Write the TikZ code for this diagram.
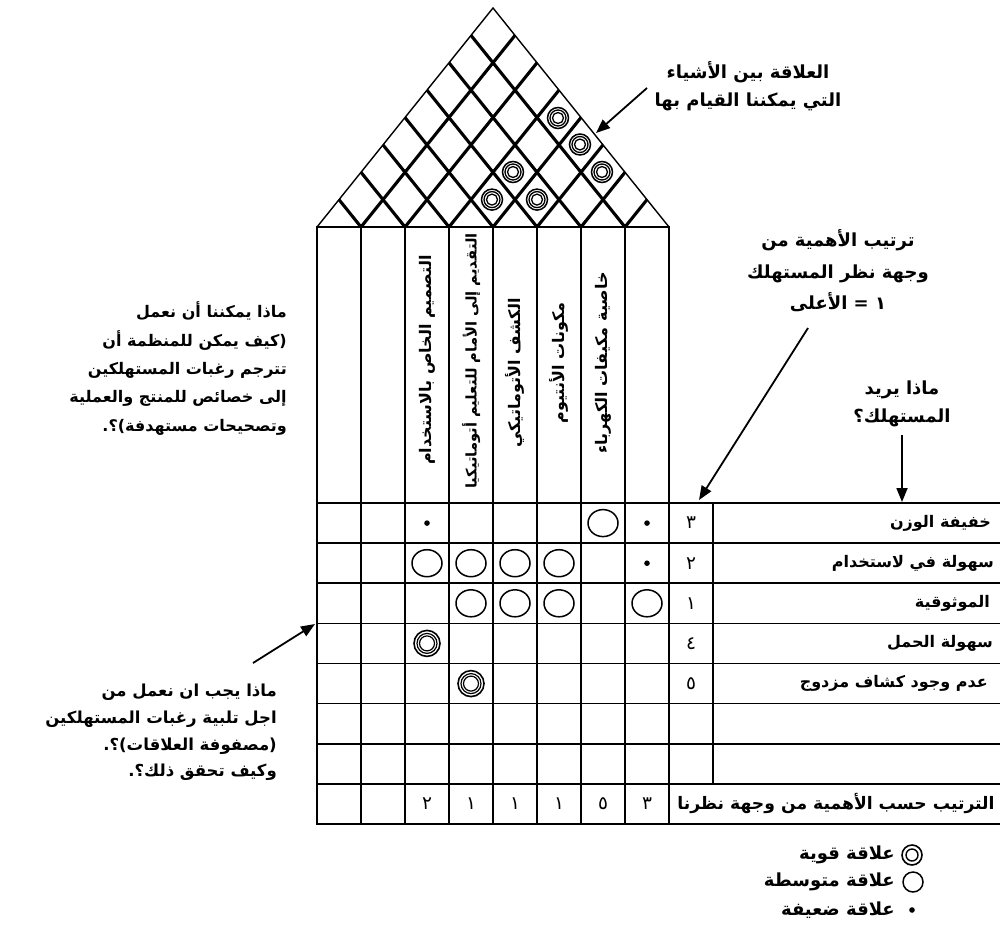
\documentclass[tikz,border=0pt]{standalone}
\usepackage{fontspec}
\usetikzlibrary{arrows.meta}
\newfontfamily\arabicfont[Script=Arabic]{DejaVu Sans}
\TeXXeTstate=1
\newcommand\artxt[1]{\beginR #1\endR}
\newcommand\arsize[2]{\arabicfont\bfseries\fontsize{#1}{#2}\selectfont}

\tikzset{
  txt/.style={font=\arsize{16}{28.3}, inner sep=0pt},
  bigtxt/.style={font=\arsize{18}{28}, inner sep=0pt},
  num/.style={font=\arabicfont\fontsize{18.5}{20}\selectfont, inner sep=0pt},
  gridline/.style={line width=1.7pt, line cap=rect},
  lattice/.style={line width=3.1pt},
  roofedge/.style={line width=1.4pt, line join=miter},
  arr/.style={line width=1.8pt, -{Triangle[length=14pt,width=11pt]}},
  pics/strongmark/.style={code={
    \draw[line width=1.6pt] (0,0) circle (13pt);
    \draw[line width=1.2pt] (0,0) circle (10pt);
    \draw[line width=1.2pt] (0,0) circle (7.5pt);}},
  pics/roofmark/.style={code={
    \draw[line width=1.5pt] (0,0) circle (10.5pt);
    \draw[line width=1.3pt] (0,0) circle (8pt);
    \draw[line width=1.3pt] (0,0) circle (5.5pt);}},
  pics/medmark/.style={code={
    \draw[line width=1.5pt] (0,0) ellipse (15pt and 13.5pt);}},
  pics/weakmark/.style={code={\fill (0,0) circle (2.8pt);}},
  pics/keystrong/.style={code={
    \draw[line width=1.6pt] (0,0) circle (10pt);
    \draw[line width=1.4pt] (0,0) circle (6pt);}},
  pics/keymed/.style={code={
    \draw[line width=1.5pt] (0,0) circle (10pt);}},
}

\begin{document}
\begin{tikzpicture}[x=1pt,y=-1pt]
\useasboundingbox (0,0) rectangle (1000,934);

% ---- roof: correlation lattice ----
\begin{scope}
  \clip (317,227) -- (493,8) -- (669,227) -- cycle;
  \foreach \i in {1,...,7}{
    \pgfmathsetmacro\xb{317+44*\i}
    \pgfmathsetmacro\tr{(669-\xb)/2+6}
    \pgfmathsetmacro\tl{(\xb-317)/2+6}
    \draw[lattice] ({\xb-\tl},{227-1.24432*\tl}) -- (\xb,227)
                   -- ({\xb+\tr},{227-1.24432*\tr});
  }
\end{scope}
\draw[roofedge] (317,227) -- (493,8) -- (669,227);

% strong correlations in the roof
\foreach \p in {(492,199.6),(537,199.6),(513,172),(602,172),(580,144.5),(558,118)}
  \pic at \p {roofmark};

% ---- column heads and relationship matrix ----
\draw[gridline] (317,227) -- (669,227);
\foreach \i in {0,...,8}
  \draw[gridline] ({317+44*\i},227) -- ({317+44*\i},824);
\foreach \j in {0,...,8}
  \draw[gridline] (317,{503+40.125*\j}) -- (1000,{503+40.125*\j});
\draw[gridline] (713,503) -- (713,783.9);

% technical characteristics (column heads)
\node[txt, rotate=90] (h2) at (427,360) {\artxt{التصميم الخاص بالاستخدام}};
\node[txt, rotate=90, font=\arsize{14.7}{17}] (h3) at (471,361) {\artxt{التقديم إلى الأمام للتعليم أتوماتيكيا}};
\node[txt, rotate=90] (h4) at (515,373) {\artxt{الكشف الأتوماتيكي}};
\node[txt, rotate=90] (h5) at (559,363) {\artxt{مكونات الأنتيوم}};
\node[txt, rotate=90] (h6) at (603,363) {\artxt{خاصية مكيفات الكهرباء}};

% customer requirements
\node[txt, anchor=east] (n0) at (991,523) {\artxt{خفيفة الوزن}};
\node[txt, anchor=east] (n1) at (994,563) {\artxt{سهولة في لاستخدام}};
\node[txt, anchor=east] (n2) at (990,603) {\artxt{الموثوقية}};
\node[txt, anchor=east] (n3) at (993,643) {\artxt{سهولة الحمل}};
\node[txt, anchor=east] (n4) at (988,683.5) {\artxt{عدم وجود كشاف مزدوج}};
\node[bigtxt, font=\arsize{17.2}{20}] (nb) at (836,803.5) {\artxt{الترتيب حسب الأهمية من وجهة نظرنا}};

% customer importance ranks
\node[num] (k0) at (691,523.1) {٣};
\node[num] (k1) at (691,563.2) {٢};
\node[num] (k2) at (691,603.3) {١};
\node[num] (k3) at (691,643.4) {٤};
\node[num] (k4) at (691,683.6) {٥};

% our own ranking (bottom row)
\node[num] (b2) at (427,804) {٢};
\node[num] (b3) at (471,804) {١};
\node[num] (b4) at (515,804) {١};
\node[num] (b5) at (559,804) {١};
\node[num] (b6) at (603,804) {٥};
\node[num] (b7) at (647,804) {٣};

% relationship marks
\pic at (427,523.1) {weakmark};
\pic at (603,523.1) {medmark};
\pic at (647,523.1) {weakmark};
\foreach \x in {427,471,515,559} \pic at (\x,563.2) {medmark};
\pic at (647,563.2) {weakmark};
\foreach \x in {471,515,559,647} \pic at (\x,603.3) {medmark};
\pic at (427,643.4) {strongmark};
\pic at (471,683.6) {strongmark};

% ---- annotations ----
\node[bigtxt, align=center] (a1) at (748,86)
  {\artxt{العلاقة بين الأشياء}\\\artxt{التي يمكننا القيام بها}};
\coordinate (a1s) at (647,88);
\coordinate (a1e) at (596,133);
\draw[arr] (a1s) -- (a1e);

\node[bigtxt, align=center, font=\arsize{18}{31.5}] (a2) at (838,271)
  {\artxt{ترتيب الأهمية من}\\\artxt{وجهة نظر المستهلك}\\\artxt{١ = الأعلى}};
\coordinate (a2s) at (808,328);
\coordinate (a2e) at (699,500);
\draw[arr] (a2s) -- (a2e);

\node[bigtxt, align=center] (a3) at (902,404)
  {\artxt{ماذا يريد}\\\artxt{المستهلك؟}};
\coordinate (a3s) at (902,435);
\coordinate (a3e) at (902,502);
\draw[arr] (a3s) -- (a3e);

\node[txt, align=right, anchor=east] (a4) at (287,368.5)
  {\artxt{ماذا يمكننا أن نعمل}\\
   \artxt{(كيف يمكن للمنظمة أن}\\
   \artxt{تترجم رغبات المستهلكين}\\
   \artxt{إلى خصائص للمنتج والعملية}\\
   \artxt{وتصحيحات مستهدفة)؟.}};

\node[txt, align=right, anchor=east, font=\arsize{16.5}{26.5}] (a5) at (277,732.5)
  {\artxt{ماذا يجب ان نعمل من}\\
   \artxt{اجل تلبية رغبات المستهلكين}\\
   \artxt{(مصفوفة العلاقات)؟.}\\
   \artxt{وكيف تحقق ذلك؟.}};
\coordinate (a5s) at (253,663);
\coordinate (a5e) at (315,624);
\draw[arr] (a5s) -- (a5e);

% ---- legend ----
\pic at (912,855) {keystrong};
\pic at (913,882) {keymed};
\pic at (912,910) {weakmark};
\node[bigtxt, anchor=east] (l1) at (895,855) {\artxt{علاقة قوية}};
\node[bigtxt, anchor=east] (l2) at (895,882) {\artxt{علاقة متوسطة}};
\node[bigtxt, anchor=east] (l3) at (895,910) {\artxt{علاقة ضعيفة}};
\end{tikzpicture}
\end{document}
